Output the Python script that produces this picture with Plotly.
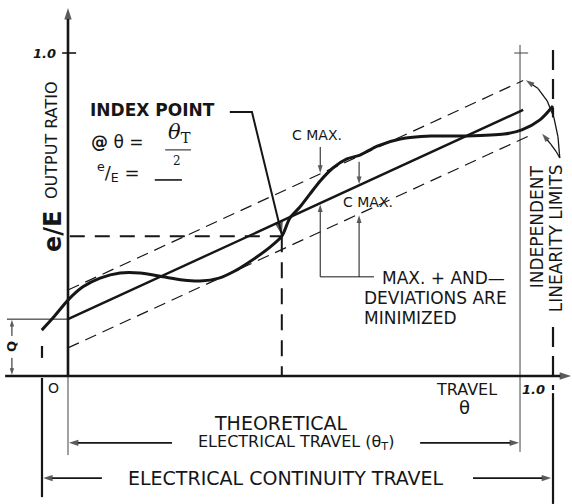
import numpy as np
import plotly.graph_objects as go

# Output curve: travel (fraction of theoretical electrical travel) vs. output ratio e/E
travel = [-0.058, -0.033, 0.000, 0.033, 0.071, 0.115, 0.159, 0.210, 0.254, 0.292,
          0.334, 0.369, 0.398, 0.447, 0.473, 0.491, 0.513, 0.535, 0.558, 0.586,
          0.617, 0.646, 0.684, 0.735, 0.803, 0.883, 0.965, 1.004, 1.044, 1.073]
output_ratio = [0.142, 0.180, 0.235, 0.276, 0.303, 0.319, 0.319, 0.307, 0.297, 0.294,
                0.303, 0.325, 0.350, 0.399, 0.433, 0.489, 0.523, 0.563, 0.604, 0.644,
                0.672, 0.684, 0.712, 0.734, 0.743, 0.743, 0.749, 0.762, 0.793, 0.836]

# Best straight-line fit and the independent linearity limits (end points)
fit_travel = [0.0, 1.007]
fit_ratio = [0.176, 0.824]
upper_travel = [0.0, 1.007]
upper_ratio = [0.266, 0.915]
lower_travel = [0.0, 1.022]
lower_ratio = [0.087, 0.745]

# Index point
index_travel = 0.473
index_ratio = 0.433

# Travel positions where the C MAX. deviations are dimensioned
cmax_travel = [0.558, 0.644]

INK = "#161616"
FONT = "DejaVu Sans"
SERIF = "DejaVu Serif"

fig = go.Figure()


def line(xs, ys, width=2.0, dash=None, color=INK):
    fig.add_trace(go.Scatter(x=xs, y=ys, mode="lines", hoverinfo="skip",
                             line=dict(color=color, width=width, dash=dash)))


def arrow(xs, ys, width=2.0, head=11):
    sizes = [0] * (len(xs) - 1) + [head]
    fig.add_trace(go.Scatter(
        x=xs, y=ys, mode="lines+markers", hoverinfo="skip",
        line=dict(color=INK, width=width),
        marker=dict(symbol="arrow", angleref="previous", size=sizes, color=INK,
                    line=dict(width=0))))


def text(x, y, s, size=16, angle=0, anchor="center", family=FONT, color=INK):
    fig.add_annotation(x=x, y=y, text=s, showarrow=False, textangle=angle,
                       xanchor=anchor, yanchor="middle",
                       font=dict(family=family, size=size, color=color))


# Reference verticals: zero and full theoretical travel
line([0.0, 0.0], [0.0, -0.245], width=1.0, color="#444")
line([1.0, 1.0], [1.025, -0.235], width=1.0, color="#444")
line([0.987, 1.018], [1.0, 1.0], width=1.0, color="#444")

# Electrical continuity travel boundaries
line([-0.0575, -0.0575], [0.093, 0.056], width=2.2)
line([-0.0575, -0.0575], [-0.006, -0.375], width=2.2)
line([1.073, 1.073], [1.009, 0.80], width=2.2, dash="20px,9px")
line([1.073, 1.073], [0.152, -0.043], width=2.2, dash="20px,9px")
line([1.073, 1.073], [-0.053, -0.396], width=2.2)

# Linearity limit lines and best fit line
line(upper_travel, upper_ratio, width=1.2, dash="12px,7px")
line(lower_travel, lower_ratio, width=1.2, dash="12px,7px")
line(fit_travel, fit_ratio, width=2.4)

# Index point projections
line([0.004, index_travel], [index_ratio, index_ratio], width=2.0, dash="15px,10px")
line([index_travel, index_travel], [index_ratio, 0.0], width=2.0, dash="16px,10px")

# Output curve
fig.add_trace(go.Scatter(x=travel, y=output_ratio, mode="lines", hoverinfo="skip",
                         line=dict(color=INK, width=3.0, shape="spline", smoothing=0.8)))

# Axes
arrow([0.0, 0.0], [0.0, 1.139], width=2.6, head=12)
arrow([-0.139, 1.113], [0.0, 0.0], width=2.4, head=12)
line([-0.013, 0.018], [1.0, 1.0], width=1.6)

# Q dimension
line([-0.135, 0.0], [fit_ratio[0], fit_ratio[0]], width=1.0)
arrow([-0.124, -0.124], [0.124, fit_ratio[0] - 0.002], width=1.0, head=7)
arrow([-0.124, -0.124], [0.056, 0.003], width=1.0, head=7)

# Index point leader
arrow([0.358, 0.407, index_travel], [0.817, 0.817, index_ratio + 0.004], width=2.0, head=14)

# C MAX. dimensions
c1, c2 = cmax_travel
up_c1 = float(np.interp(c1, upper_travel, upper_ratio))
fit_c1 = float(np.interp(c1, fit_travel, fit_ratio))
fit_c2 = float(np.interp(c2, fit_travel, fit_ratio))
low_c2 = float(np.interp(c2, lower_travel, lower_ratio))
curve_c2 = float(np.interp(c2, travel, output_ratio))
arrow([c1, c1], [0.709, up_c1 + 0.003], width=1.0, head=8)
arrow([c2, c2], [curve_c2 - 0.02, fit_c2 + 0.004], width=1.0, head=8)
arrow([c1, c1], [0.307, fit_c1 - 0.004], width=1.0, head=8)
arrow([c2, c2], [0.307, low_c2 - 0.004], width=1.0, head=8)
line([c1, 0.677], [0.307, 0.307], width=1.0)

# Leaders to the independent linearity limits
arrow([1.088, 1.084, 1.075, 1.060, 1.040, 1.013],
      [0.675, 0.740, 0.800, 0.852, 0.890, 0.916], width=1.3, head=9)
arrow([1.088, 1.080, 1.068, 1.049], [0.675, 0.695, 0.718, 0.750], width=1.3, head=9)

# Travel span arrows
arrow([0.230, 0.002], [-0.207, -0.207], width=1.8, head=10)
arrow([0.779, 0.998], [-0.207, -0.207], width=1.8, head=10)
arrow([0.075, -0.055], [-0.316, -0.316], width=1.8, head=10)
arrow([0.896, 1.069], [-0.316, -0.316], width=1.8, head=10)

# Index point formula decorations
line([0.215, 0.272], [0.700, 0.700], width=1.0)
line([0.192, 0.252], [0.607, 0.607], width=1.6)

# Labels
text(-0.053, 1.0, "<b><i>1.0</i></b>", size=13)
text(-0.035, 0.731, "OUTPUT RATIO", size=16, angle=-90)
text(-0.033, 0.446, "<b>e/E</b>", size=24, angle=-90)
text(0.186, 0.824, "<b>INDEX POINT</b>", size=17)
text(0.108, 0.724, "<b>@</b> θ =", size=17)
text(0.246, 0.752, "<i>θ</i><sub>T</sub>", size=21, family=SERIF)
text(0.241, 0.666, "2", size=12, family=SERIF)
text(0.111, 0.632, "<sup>e</sup>/<sub>E</sub> =", size=18)
text(0.551, 0.746, "C MAX.", size=14)
text(0.664, 0.539, "C MAX.", size=14)
text(0.690, 0.303, "MAX. + AND—", size=17, anchor="left")
text(0.650, 0.241, "DEVIATIONS ARE", size=17, anchor="left")
text(0.650, 0.180, "MINIMIZED", size=17, anchor="left")
text(1.038, 0.461, "INDEPENDENT", size=17, angle=-90)
text(1.080, 0.427, "LINEARITY LIMITS", size=17, angle=-90)
text(-0.124, 0.093, "<b>Q</b>", size=13, angle=-90)
text(-0.033, -0.037, "O", size=14)
text(0.881, -0.043, "TRAVEL", size=16)
text(0.878, -0.099, "θ", size=18)
text(1.029, -0.043, "<b><i>1.0</i></b>", size=13)
text(0.471, -0.146, "THEORETICAL", size=19)
text(0.504, -0.207, "ELECTRICAL TRAVEL (θ<sub>T</sub>)", size=16)
text(0.482, -0.316, "ELECTRICAL CONTINUITY TRAVEL", size=19)

fig.update_layout(
    width=572, height=504,
    margin=dict(l=0, r=0, t=0, b=0),
    paper_bgcolor="white", plot_bgcolor="white",
    showlegend=False,
    xaxis=dict(range=[-0.1504, 1.1150], visible=False, fixedrange=True),
    yaxis=dict(range=[-0.3963, 1.1641], visible=False, fixedrange=True),
)

fig.write_html("out.html")
